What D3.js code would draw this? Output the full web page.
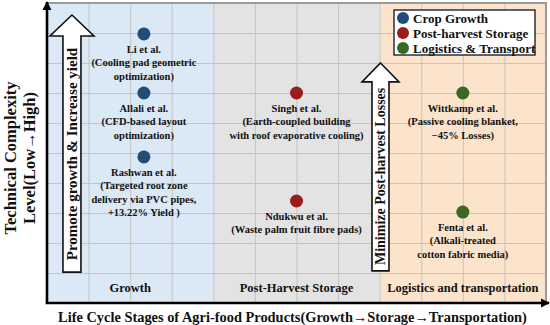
<!DOCTYPE html>
<html>
<head>
<meta charset="utf-8">
<script src="https://cdn.jsdelivr.net/npm/d3@7"></script>
<style>
  body { margin: 0; background: #fff; }
  svg text { font-family: "Liberation Serif", serif; font-weight: bold; fill: #111; }
</style>
</head>
<body>
<div class="chart"></div>
<script>
// stages along the x axis (each spans 4 grid columns)
const stages = ["Growth", "Post-Harvest Storage", "Logistics and transportation"];
const stageSpan = [[0, 4], [4, 8], [8, 12]];
const groups = ["Crop Growth", "Post-harvest Storage", "Logistics & Transport"];

// studies: stage position, complexity level, label lines
const studyGroup = [0, 0, 0, 1, 1, 2, 2];
const studyStage = [2.33, 2.33, 2.33, 6, 6, 10, 10];
const studyLevel = [8.97, 7, 4.87, 7, 3.4, 7, 3.03];
const studyLabel = [
  ["Li et al.", "(Cooling pad geometric", "optimization)"],
  ["Allali et al.", "(CFD-based layout", "optimization)"],
  ["Rashwan et al.", "(Targeted root zone", "delivery via PVC pipes,", "+13.22% Yield )"],
  ["Singh et al.", "(Earth-coupled building", "with roof evaporative cooling)"],
  ["Ndukwu et al.", "(Waste palm fruit fibre pads)"],
  ["Wittkamp et al.", "(Passive cooling blanket,", "\u221245% Losses)"],
  ["Fenta et al.", "(Alkali-treated", "cotton fabric media)"]
];

const arrowText = ["Promote growth & Increase yield", "Minimize Post-harvest Losses"];
const xTitle = "Life Cycle Stages of Agri-food Products(Growth\u2192Storage\u2192Transportation)";
const yTitle = ["Technical Complexity", "Level(Low\u2192High)"];

const W = 550, H = 325;
const margin = { top: 3, right: 4, bottom: 22, left: 47 };

const stageFill = ["#dbe8f5", "#e3e3e3", "#fce3cb"];
const groupColor = ["#1f4e79", "#9b1c1c", "#386823"];

const svg = d3.select(".chart").append("svg")
  .attr("width", W).attr("height", H)
  .attr("font-family", "Liberation Serif, serif")
  .attr("font-weight", "bold");

const x = d3.scaleLinear().domain([0, 12]).range([margin.left, W - margin.right]);
const y = d3.scaleLinear().domain([0, 10]).range([H - margin.bottom, margin.top]);

// stage background bands
svg.selectAll(".band")
  .data(stages)
  .enter().append("rect")
  .attr("class", "band")
  .attr("x", (d, i) => x(stageSpan[i][0]))
  .attr("width", (d, i) => x(stageSpan[i][1]) - x(stageSpan[i][0]))
  .attr("y", y(10))
  .attr("height", y(0) - y(10))
  .attr("fill", (d, i) => stageFill[i]);

// grid
svg.append("g")
  .attr("transform", "translate(0," + y(0) + ")")
  .call(d3.axisBottom(x).ticks(12).tickSize(-(y(0) - y(10))).tickFormat(""))
  .call(g => g.select(".domain").remove())
  .call(g => g.selectAll("line").attr("stroke", "#c4c4c4").attr("stroke-width", 1));

svg.append("g")
  .attr("transform", "translate(" + x(0) + ",0)")
  .call(d3.axisLeft(y).ticks(10).tickSize(-(x(12) - x(0))).tickFormat(""))
  .call(g => g.select(".domain").remove())
  .call(g => g.selectAll("line").attr("stroke", "#c4c4c4").attr("stroke-width", 1));

// gray frame top / right
svg.append("path")
  .attr("d", "M" + x(0) + "," + y(10) + "H" + x(12) + "V" + y(0))
  .attr("fill", "none").attr("stroke", "#9a9a9a").attr("stroke-width", 2);

// stage labels
svg.selectAll(".stage")
  .data(stages)
  .enter().append("text")
  .attr("class", "stage")
  .attr("x", (d, i) => x((stageSpan[i][0] + stageSpan[i][1]) / 2))
  .attr("y", y(0) - 11)
  .attr("text-anchor", "middle")
  .style("font-size", "12.5px")
  .text(d => d);

// big hollow arrows
function bigArrow(cx, yTip, yBase, yBottom, bodyHalf, headHalf, label, fontSize) {
  const px = x(cx);
  const pts = [
    [px, y(yTip)], [px + headHalf, y(yBase)], [px + bodyHalf, y(yBase)],
    [px + bodyHalf, y(yBottom)], [px - bodyHalf, y(yBottom)],
    [px - bodyHalf, y(yBase)], [px - headHalf, y(yBase)]
  ];
  svg.append("path")
    .attr("d", d3.line()(pts) + "Z")
    .attr("fill", "#fff").attr("stroke", "#111").attr("stroke-width", 1.6);
  const my = (y(yBase) + y(yBottom)) / 2;
  svg.append("text")
    .attr("transform", "translate(" + (px + fontSize * 0.35) + "," + my + ") rotate(-90)")
    .attr("text-anchor", "middle")
    .style("font-size", fontSize + "px")
    .text(label);
}
bigArrow(0.6, 9.6, 8.9, 1.03, 9, 22, arrowText[0], 15);
bigArrow(8.02, 8.0, 7.37, 1.07, 8.5, 18.5, arrowText[1], 14);

// study points
const pts = svg.append("g");
pts.selectAll("circle")
  .data(studyLevel)
  .enter().append("circle")
  .attr("cx", (d, i) => x(studyStage[i]))
  .attr("cy", d => y(d))
  .attr("r", 6.5)
  .attr("fill", (d, i) => groupColor[studyGroup[i]]);

pts.selectAll(".lbl")
  .data(studyLabel)
  .enter().append("text")
  .attr("class", "lbl")
  .attr("text-anchor", "middle")
  .style("font-size", "10.5px")
  .each(function(lines, i) {
    d3.select(this).selectAll("tspan")
      .data(lines)
      .enter().append("tspan")
      .attr("x", x(studyStage[i]))
      .attr("y", (l, j) => y(studyLevel[i]) + 19 + j * 13.3)
      .text(l => l);
  });

// axes with arrowheads
const defs = svg.append("defs");
defs.append("marker")
  .attr("id", "ah")
  .attr("viewBox", "0 0 10 10")
  .attr("refX", 9).attr("refY", 5)
  .attr("markerWidth", 3.6).attr("markerHeight", 3.6)
  .attr("markerUnits", "strokeWidth")
  .attr("orient", "auto")
  .append("path").attr("d", "M0,0L10,5L0,10Z").attr("fill", "#000");

svg.append("line")
  .attr("x1", x(0)).attr("y1", y(0))
  .attr("x2", x(0)).attr("y2", y(10) - 1)
  .attr("stroke", "#000").attr("stroke-width", 2.6)
  .attr("marker-end", "url(#ah)");
svg.append("line")
  .attr("x1", x(0) - 1.3).attr("y1", y(0))
  .attr("x2", W - 1).attr("y2", y(0))
  .attr("stroke", "#000").attr("stroke-width", 2.6)
  .attr("marker-end", "url(#ah)");

// legend
const lg = svg.append("g").attr("transform", "translate(394,10)");
lg.append("rect")
  .attr("width", 141).attr("height", 45)
  .attr("fill", "#fff").attr("stroke", "#1a2433").attr("stroke-width", 1.4);
groups.forEach((g, i) => {
  lg.append("circle")
    .attr("cx", 9).attr("cy", 8 + i * 15).attr("r", 6)
    .attr("fill", groupColor[i]);
  lg.append("text")
    .attr("x", 19).attr("y", 12.5 + i * 15)
    .style("font-size", "13px")
    .text(g);
});

// axis titles
svg.append("text")
  .attr("x", (x(0) + x(12)) / 2 - 4)
  .attr("y", H - 3)
  .attr("text-anchor", "middle")
  .style("font-size", "14.4px")
  .text(xTitle);

yTitle.forEach((t, i) => {
  svg.append("text")
    .attr("transform", "translate(" + (16 + i * 19) + "," + 158 + ") rotate(-90)")
    .attr("text-anchor", "middle")
    .style("font-size", "16.5px")
    .text(t);
});
</script>
</body>
</html>
